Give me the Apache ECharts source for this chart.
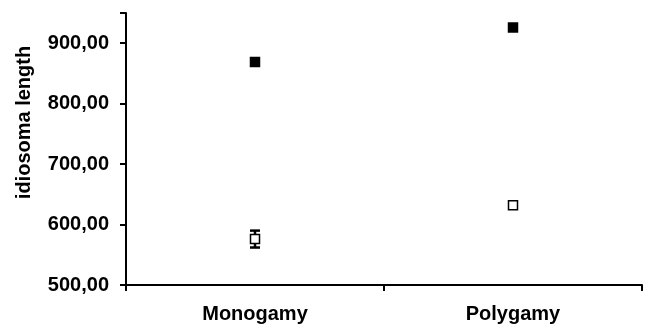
<!DOCTYPE html>
<html><head><meta charset="utf-8">
<script src="https://cdn.jsdelivr.net/npm/echarts@6/dist/echarts.min.js"></script>
<style>html,body{margin:0;padding:0;background:#fff}#c{width:645px;height:329px}</style>
</head><body><div id="c"></div>
<script>
const categories = ['Monogamy', 'Polygamy'];
const filledMeans = [869, 926];
const filledErr = [3, 4];
const openMeans = [576, 632];
const openErr = [14, 3];
const yTicks = [500, 600, 700, 800, 900];

function makeSeries(means, errs, filled) {
  return {
    type: 'custom',
    data: means.map((m, i) => [i, m, m - errs[i], m + errs[i]]),
    encode: { x: 0, y: [1, 2, 3] },
    renderItem: function (params, api) {
      const x = api.value(0);
      const c = api.coord([x, api.value(1)]);
      const lo = api.coord([x, api.value(2)]);
      const hi = api.coord([x, api.value(3)]);
      const cap = 5, s = 4.5;
      const st = { stroke: '#000', lineWidth: 2.5, fill: 'none' };
      return {
        type: 'group',
        children: [
          { type: 'line', shape: { x1: c[0], y1: lo[1], x2: c[0], y2: hi[1] }, style: st },
          { type: 'line', shape: { x1: c[0] - cap, y1: lo[1], x2: c[0] + cap, y2: lo[1] }, style: st },
          { type: 'line', shape: { x1: c[0] - cap, y1: hi[1], x2: c[0] + cap, y2: hi[1] }, style: st },
          { type: 'rect', shape: { x: c[0] - s, y: c[1] - s, width: 2 * s, height: 2 * s },
            style: { fill: filled ? '#000' : '#fff', stroke: '#000', lineWidth: 1.5 } }
        ]
      };
    }
  };
}

const chart = echarts.init(document.getElementById('c'));
chart.setOption({
  animation: false,
  grid: { left: 126, right: 3, top: 13, bottom: 44 },
  xAxis: {
    type: 'category', data: categories, boundaryGap: true,
    axisLine: { lineStyle: { color: '#000', width: 2 } },
    axisTick: { show: true, length: 6, lineStyle: { color: '#000', width: 2 } },
    axisLabel: { color: '#000', fontFamily: 'Liberation Sans', fontWeight: 'bold', fontSize: 20, margin: 19 },
    splitLine: { show: false }
  },
  yAxis: {
    type: 'value', min: 500, max: 950, interval: 100,
    name: 'idiosoma length', nameLocation: 'middle', nameGap: 92,
    nameTextStyle: { color: '#000', fontFamily: 'Liberation Sans', fontWeight: 'bold', fontSize: 20, padding: [0, 0, 0, 53] },
    axisLine: { show: true, lineStyle: { color: '#000', width: 2 } },
    axisTick: { show: true, length: 6, lineStyle: { color: '#000', width: 2 } },
    axisLabel: {
      color: '#000', fontFamily: 'Liberation Sans', fontWeight: 'bold', fontSize: 20, margin: 17,
      formatter: v => yTicks.includes(v) ? v.toFixed(2).replace('.', ',') : ''
    },
    splitLine: { show: false }
  },
  series: [makeSeries(filledMeans, filledErr, true), makeSeries(openMeans, openErr, false)]
});
</script></body></html>
